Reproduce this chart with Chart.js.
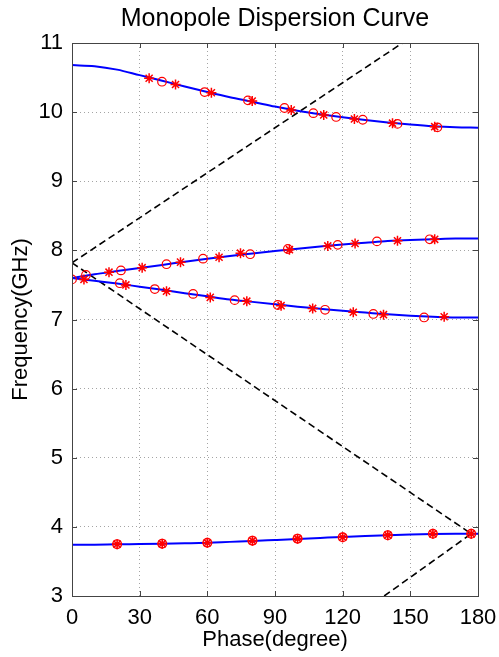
<!DOCTYPE html>
<html>
<head>
<meta charset="utf-8">
<script src="https://cdn.jsdelivr.net/npm/chart.js@4.4.1/dist/chart.umd.min.js"></script>
<style>
  html, body { margin: 0; padding: 0; background: #fff; }
</style>
</head>
<body>
<canvas id="myChart" width="499" height="657"></canvas>
<script>
// phase grid for the fitted curves (degrees)
const phaseGrid = [0, 10, 20, 30, 40, 50, 60, 70, 80, 90, 100, 110, 120, 130, 140, 150, 160, 170, 180];

// fitted curves (GHz)
const band1 = [10.68, 10.665, 10.615, 10.535, 10.455, 10.37, 10.29, 10.215, 10.15, 10.08, 10.02, 9.97, 9.925, 9.885, 9.85, 9.82, 9.795, 9.78, 9.775];
const band2 = [7.60, 7.655, 7.70, 7.745, 7.79, 7.835, 7.88, 7.92, 7.955, 7.99, 8.025, 8.055, 8.085, 8.11, 8.135, 8.15, 8.16, 8.17, 8.17];
const band3 = [7.60, 7.56, 7.52, 7.475, 7.43, 7.38, 7.335, 7.29, 7.255, 7.22, 7.185, 7.155, 7.125, 7.10, 7.075, 7.055, 7.04, 7.03, 7.03];
const band4 = [3.74, 3.742, 3.748, 3.752, 3.757, 3.763, 3.77, 3.783, 3.795, 3.81, 3.825, 3.84, 3.855, 3.868, 3.88, 3.89, 3.897, 3.90, 3.90];

// simulated points, [phase, frequency]
const starPts = [
  [34.2, 10.49], [45.9, 10.40], [61.8, 10.28], [79.9, 10.16], [97.2, 10.03], [111.6, 9.96], [125.2, 9.90], [142.1, 9.84], [160.8, 9.79],
  [16.4, 7.685], [31.1, 7.75], [48.1, 7.83], [65.2, 7.90], [74.7, 7.96], [96.4, 8.01], [113.4, 8.065], [125.5, 8.10], [144.3, 8.14], [160.8, 8.16],
  [5.3, 7.58], [23.9, 7.50], [41.9, 7.41], [61.3, 7.32], [77.5, 7.265], [92.7, 7.20], [106.7, 7.16], [124.7, 7.105], [138.1, 7.07], [165.0, 7.04]
];
const circlePts = [
  [39.9, 10.44], [58.8, 10.29], [78.0, 10.17], [94.2, 10.06], [107.0, 9.985], [117.1, 9.93], [128.9, 9.89], [144.3, 9.83], [162.0, 9.78],
  [0, 7.58], [6.2, 7.645], [21.7, 7.71], [41.9, 7.80], [58.1, 7.88], [79.0, 7.945], [95.7, 8.02], [117.8, 8.08], [135.2, 8.13], [158.6, 8.16],
  [21.2, 7.525], [36.7, 7.44], [53.7, 7.37], [72.1, 7.28], [91.2, 7.21], [112.2, 7.14], [133.6, 7.08], [156.1, 7.03]
];
// lowest band: star and circle on the same spot
const band4MarkPhase = [20, 40, 60, 80, 100, 120, 140, 160, 177];
const band4MarkFreq = [3.75, 3.757, 3.77, 3.80, 3.83, 3.85, 3.88, 3.90, 3.90];

// light lines (dashed)
const lightUpPhase = [0, 146.5];
const lightUpFreq = [7.82, 11];
const lightDownPhase = [0, 177];
const lightDownFreq = [7.82, 3.9];
const lightLowPhase = [138.4, 177];
const lightLowFreq = [3.0, 3.9];

const xTicks = [0, 30, 60, 90, 120, 150, 180];
const yTicks = [3, 4, 5, 6, 7, 8, 9, 10, 11];

function pts(xs, ys) {
  return xs.map(function (x, i) { return { x: x, y: ys[i] }; });
}
function pairs(list) {
  return list.map(function (p) { return { x: p[0], y: p[1] }; });
}

const FONT = "'Liberation Sans', Arial, sans-serif";

function curve(data) {
  return { data: data, showLine: true, borderColor: '#0000ff', borderWidth: 2, pointRadius: 0,
    cubicInterpolationMode: 'monotone', fill: false, order: 2 };
}
function dashed(data) {
  return { data: data, showLine: true, borderColor: '#000', borderWidth: 1.6, borderDash: [7, 4],
    pointRadius: 0, fill: false, order: 3 };
}

// box and inward ticks on all four sides, like a matlab axes
const boxPlugin = {
  id: 'box',
  afterDatasetsDraw(chart) {
    const ctx = chart.ctx;
    const a = chart.chartArea;
    const xs = chart.scales.x, ys = chart.scales.y;
    ctx.save();
    ctx.strokeStyle = '#444';
    ctx.lineWidth = 1;
    ctx.strokeRect(a.left + 0.5, a.top + 0.5, a.right - a.left, a.bottom - a.top);
    ctx.beginPath();
    xTicks.forEach(function (t) {
      const px = Math.round(xs.getPixelForValue(t)) + 0.5;
      ctx.moveTo(px, a.bottom); ctx.lineTo(px, a.bottom - 5);
      ctx.moveTo(px, a.top); ctx.lineTo(px, a.top + 5);
    });
    yTicks.forEach(function (t) {
      const py = Math.round(ys.getPixelForValue(t)) + 0.5;
      ctx.moveTo(a.left, py); ctx.lineTo(a.left + 5, py);
      ctx.moveTo(a.right, py); ctx.lineTo(a.right - 5, py);
    });
    ctx.stroke();
    ctx.restore();
  }
};

const ctx = document.getElementById('myChart').getContext('2d');
const myChart = new Chart(ctx, {
  type: 'scatter',
  data: {
    datasets: [
      curve(pts(phaseGrid, band1)),
      curve(pts(phaseGrid, band2)),
      curve(pts(phaseGrid, band3)),
      curve(pts(phaseGrid, band4)),
      dashed(pts(lightUpPhase, lightUpFreq)),
      dashed(pts(lightDownPhase, lightDownFreq)),
      dashed(pts(lightLowPhase, lightLowFreq)),
      { data: pairs(starPts), pointStyle: 'star', pointRadius: 5, borderColor: '#ff0000', borderWidth: 1.5, order: 0 },
      { data: pairs(circlePts), pointStyle: 'circle', pointRadius: 4.3, borderColor: '#ff0000', backgroundColor: 'rgba(0,0,0,0)', borderWidth: 1.2, order: 1 },
      { data: pts(band4MarkPhase, band4MarkFreq), pointStyle: 'star', pointRadius: 5, borderColor: '#ff0000', borderWidth: 1.6, order: 0 },
      { data: pts(band4MarkPhase, band4MarkFreq), pointStyle: 'circle', pointRadius: 4.3, borderColor: '#ff0000', backgroundColor: 'rgba(0,0,0,0)', borderWidth: 1.4, order: 1 }
    ]
  },
  options: {
    responsive: false,
    animation: false,
    layout: { padding: { left: 0, right: 21, top: 0, bottom: 0 } },
    plugins: {
      legend: { display: false },
      tooltip: { enabled: false },
      title: {
        display: true,
        text: 'Monopole Dispersion Curve',
        color: '#000',
        fullSize: false,
        font: { family: FONT, size: 25, weight: 'normal' },
        padding: { top: 4, bottom: 9 }
      }
    },
    scales: {
      x: {
        type: 'linear',
        min: 0, max: 180,
        afterFit: function (s) { s.height = 61; s.paddingLeft = 0; s.paddingRight = 0; },
        afterBuildTicks: function (s) { s.ticks = xTicks.map(function (v) { return { value: v }; }); },
        ticks: { color: '#000', font: { family: FONT, size: 22 }, padding: 9, autoSkip: false, maxRotation: 0 },
        grid: { color: '#a4a4a4', lineWidth: 1, drawTicks: false },
        border: { display: false, dash: [1, 3] },
        title: { display: true, text: 'Phase(degree)', color: '#000', font: { family: FONT, size: 22 }, padding: { top: 0, bottom: 4 } }
      },
      y: {
        type: 'linear',
        min: 3, max: 11,
        afterFit: function (s) { s.width = 72; },
        afterBuildTicks: function (s) { s.ticks = yTicks.map(function (v) { return { value: v }; }); },
        ticks: { color: '#000', font: { family: FONT, size: 22 }, padding: 9 },
        grid: { color: '#a4a4a4', lineWidth: 1, drawTicks: false },
        border: { display: false, dash: [1, 3] },
        title: { display: true, text: 'Frequency(GHz)', color: '#000', font: { family: FONT, size: 22 }, padding: { top: 8, bottom: 0 } }
      }
    }
  },
  plugins: [boxPlugin]
});
</script>
</body>
</html>
